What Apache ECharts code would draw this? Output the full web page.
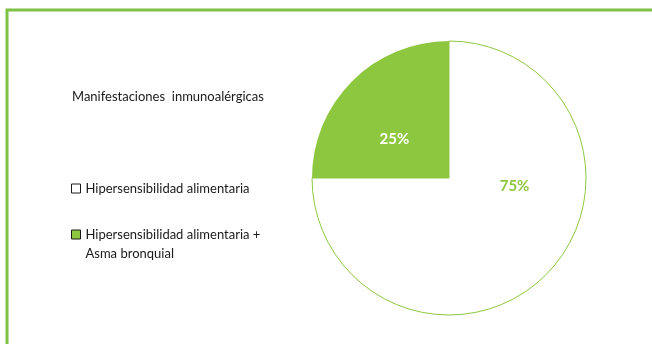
<!DOCTYPE html>
<html>
<head>
<meta charset="utf-8">
<script src="https://cdn.jsdelivr.net/npm/echarts@6/dist/echarts.min.js"></script>
<style>
  html, body { margin: 0; padding: 0; background: #ffffff; }
  #chart { width: 652px; height: 344px; }
</style>
</head>
<body>
<div id="chart"></div>
<script>
// Share of immuno-allergic manifestations
const chartTitle = 'Manifestaciones  inmunoalérgicas';
const categories = [
  'Hipersensibilidad alimentaria',
  'Hipersensibilidad alimentaria + Asma bronquial'
];
// the leading blank line keeps the icon level with the first text line
const legendLabels = [
  'Hipersensibilidad alimentaria',
  '\nHipersensibilidad alimentaria +\nAsma bronquial'
];
const shares = [75, 25];

const GREEN = '#8dc63f';
const FONT = 'Lato, "Noto Sans", sans-serif';

const sliceStyles = [
  { color: '#ffffff', borderColor: GREEN, borderWidth: 1 },
  { color: GREEN, borderColor: GREEN, borderWidth: 0 }
];
const labelColors = [GREEN, '#ffffff'];
// nudges for the percentage labels relative to the slice centres
const labelShift = [[15, -42], [-4, 12]];

const legendText = { fontFamily: FONT, fontSize: 13, color: '#1a1a1a', lineHeight: 19 };

const chart = echarts.init(document.getElementById('chart'), null, { renderer: 'canvas' });

chart.setOption({
  animation: false,
  title: {
    text: chartTitle,
    left: 72,
    top: 90,
    padding: 0,
    textStyle: { fontFamily: FONT, fontSize: 13, fontWeight: 'normal', color: '#1a1a1a' }
  },
  legend: [
    {
      orient: 'vertical',
      left: 71,
      top: 179,
      padding: 0,
      itemWidth: 9,
      itemHeight: 9,
      itemGap: 3,
      icon: 'rect',
      data: [{ name: categories[0], itemStyle: { color: '#ffffff', borderColor: '#1a1a1a', borderWidth: 1 } }],
      formatter: () => legendLabels[0],
      textStyle: legendText
    },
    {
      orient: 'vertical',
      left: 71,
      top: 206,
      padding: 0,
      itemWidth: 9,
      itemHeight: 9,
      itemGap: 3,
      icon: 'rect',
      data: [{ name: categories[1], itemStyle: { color: GREEN, borderColor: '#1a1a1a', borderWidth: 1 } }],
      formatter: () => legendLabels[1],
      textStyle: legendText
    }
  ],
  graphic: [
    {
      type: 'polyline',
      silent: true,
      shape: { points: [[7, 350], [7, 10], [660, 10]] },
      style: { stroke: '#7dc242', lineWidth: 3, fill: null }
    }
  ],
  series: [
    {
      type: 'pie',
      center: [449, 178],
      radius: [0, 137],
      startAngle: 90,
      clockwise: true,
      avoidLabelOverlap: false,
      emphasis: { disabled: true },
      label: {
        show: true,
        position: 'inside',
        formatter: '{c}%',
        fontFamily: FONT,
        fontSize: 15,
        fontWeight: 'bold'
      },
      labelLine: { show: false },
      labelLayout: (p) => ({ dx: labelShift[p.dataIndex][0], dy: labelShift[p.dataIndex][1] }),
      data: categories.map((name, i) => ({
        name,
        value: shares[i],
        itemStyle: sliceStyles[i],
        label: { color: labelColors[i] }
      }))
    }
  ]
});
</script>
</body>
</html>
